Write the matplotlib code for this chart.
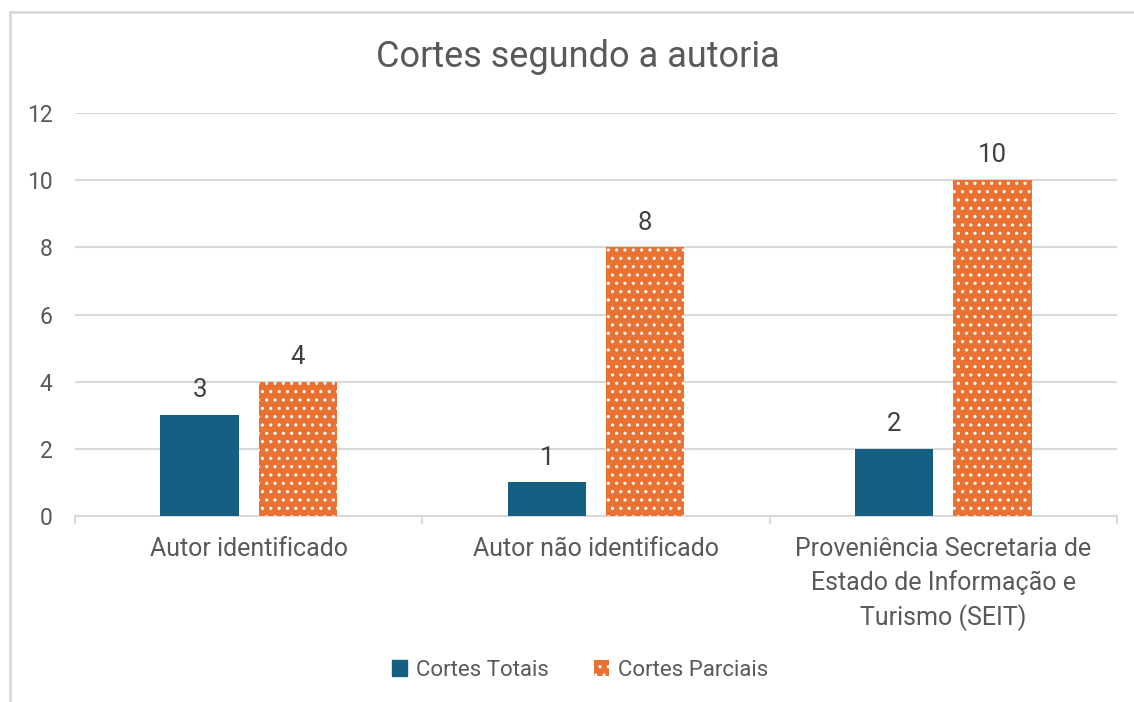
import matplotlib
matplotlib.use("Agg")
import matplotlib.pyplot as plt
from matplotlib.lines import Line2D
import numpy as np

categories = ["Autor identificado", "Autor não identificado",
              "Proveniência Secretaria de\nEstado de Informação e\nTurismo (SEIT)"]
cortes_totais = [3, 1, 2]
cortes_parciais = [4, 8, 10]
series_names = ["Cortes Totais", "Cortes Parciais"]
yticks = [0, 2, 4, 6, 8, 10, 12]

BLUE = "#156082"
ORANGE = "#E97132"
TXT = "#595959"
GRID = "#D9D9D9"

plt.rcParams['font.family'] = ['Roboto', 'DejaVu Sans']
plt.rcParams['hatch.linewidth'] = 1.1

fig = plt.figure(figsize=(11.34, 7.02), dpi=100)
W, H = 1134, 702
ax = fig.add_axes([75 / W, 1 - 516 / H, (1117 - 75) / W, (516 - 113) / H])

x = np.arange(len(categories))
bw = 0.225
off = (bw + 0.058) / 2
b1 = ax.bar(x - off, cortes_totais, bw, color=BLUE, zorder=3)
b2 = ax.bar(x + off, cortes_parciais, bw, color=ORANGE, edgecolor="white",
            hatch="..", linewidth=0, zorder=3, label=series_names[1])

for rects in (b1, b2):
    for r in rects:
        ax.text(r.get_x() + r.get_width() / 2, r.get_height() + 0.38,
                f"{int(r.get_height())}", ha="center", va="bottom",
                fontsize=18.5, color="#404040")

ax.set_xlim(-0.5, len(categories) - 0.5)
ax.set_ylim(0, 12)
ax.set_yticks(yticks)
ax.yaxis.grid(True, color=GRID, linewidth=1.5, zorder=0)
ax.set_axisbelow(True)
for s in ["top", "right", "left"]:
    ax.spines[s].set_visible(False)
ax.spines["bottom"].set_color(GRID)
ax.spines["bottom"].set_linewidth(1.5)
ax.tick_params(axis="y", length=0, labelsize=16.5, labelcolor=TXT, pad=16)
ax.set_xticks(x)
ax.set_xticklabels(categories, fontsize=18, color=TXT, linespacing=1.45)
ax.tick_params(axis="x", which="major", length=0, pad=15)
ax.set_xticks(np.arange(-0.5, len(categories)), minor=True)
ax.tick_params(axis="x", which="minor", length=6, color=GRID, width=1.5)

fig.text(578 / W, 1 - 57 / H, "Cortes segundo a autoria", ha="center",
         va="center", fontsize=26, color=TXT)

handles = [plt.Rectangle((0, 0), 1, 1, color=BLUE),
           plt.Rectangle((0, 0), 1, 1, facecolor=ORANGE, edgecolor="white",
                         hatch="..", linewidth=0)]
fig.legend(handles, series_names, loc="center", bbox_to_anchor=(580 / W, 1 - 670 / H),
           ncol=2, frameon=False, fontsize=16, labelcolor=TXT,
           handlelength=0.7, handleheight=0.7, handletextpad=0.4, columnspacing=2.0)

fig.add_artist(Line2D([10 / W, 10 / W], [0, 1 - 12 / H], transform=fig.transFigure,
                      color=GRID, linewidth=2))
fig.add_artist(Line2D([10 / W, 1], [1 - 12 / H, 1 - 12 / H], transform=fig.transFigure,
                      color=GRID, linewidth=2))

fig.savefig("out.png", dpi=100, facecolor="white")
